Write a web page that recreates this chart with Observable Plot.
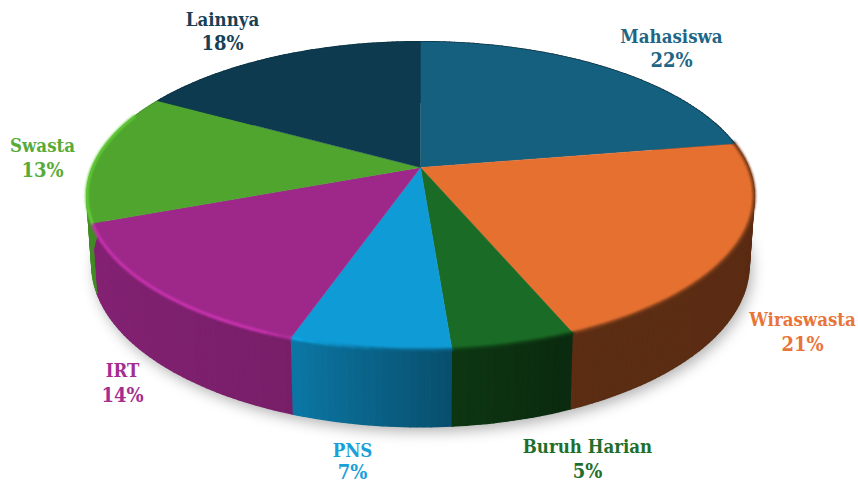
<!DOCTYPE html>
<html><head><meta charset="utf-8">
<script src="https://cdn.jsdelivr.net/npm/d3@7"></script>
<script src="https://cdn.jsdelivr.net/npm/@observablehq/plot@0.6"></script>
<style>
html,body{margin:0;padding:0;background:#fff}
svg{display:block}
.soft{filter:blur(7px)}
.rim{filter:blur(.8px)}
</style></head><body><div id="chart"></div>
<script>
// --- data ---
const categories = ["Mahasiswa","Wiraswasta","Buruh Harian","PNS","IRT","Swasta","Lainnya"];
const labelPercents = [22,21,5,7,14,13,18];
// slice sizes as drawn (percent of the full turn)
const drawnShares = [22.4,21.3,5.05,6.55,14.0,13.8,16.9];
const topColors = ["#155f7f","#e57030","#1a6b25","#0f9bd6","#9e288a","#4fa52d","#0d3a4e"];
const textColors = ["#1f6585","#e8743a","#1f6e2c","#1a9fd8","#a32e90","#57ab38","#173f55"];
// --- layout ---
const labelX = [671,802,587,352,122,42,222];
const nameY = [37,320,447,451,371,146,20];
const percentY = [60,344,471,472,395,170,43];
const view = {cx:420, cy:167, a:328, b:149, k:.184, h:67, bottomX:.985, bottomY:.97};

const rad = d => d*Math.PI/180;
function project(deg, level){
  const u = Math.sin(rad(deg)), v = -Math.cos(rad(deg));
  const s = 1/(1-view.k*v);
  return level === 0
    ? {x:view.cx+view.a*u*s, y:view.cy+view.b*v*s}
    : {x:view.cx+view.a*view.bottomX*u*s, y:view.cy+view.b*view.bottomY*v*s+view.h*s};
}
let cum = 0;
const slices = categories.map((name,i)=>{
  const start = cum*3.6; cum += drawnShares[i];
  return {name,i,start,end:cum*3.6,color:topColors[i]};
});
function stepsBetween(a,b,step){
  const out=[]; for(let t=a;t<b;t+=step) out.push(t); out.push(b); return out;
}
// top sectors
const topPts = slices.flatMap(s=>[
  {id:s.name,x:view.cx,y:view.cy,fill:s.color},
  ...stepsBetween(s.start,s.end,1).map(t=>({id:s.name,...project(t,0),fill:s.color}))
]);
// side wall strips
const shade = d3.scaleLinear().domain([60,159,175,198,250,300]).range([.39,.40,.5,.76,.84,.84]).clamp(true);
const scaled = (c,f)=>{const r=d3.rgb(c);return d3.rgb(r.r*f,r.g*f,r.b*f).formatHex();};
const sidePts = slices.flatMap(s=>{
  const ts=stepsBetween(s.start,s.end,1), out=[];
  for(let j=0;j<ts.length-1;j++){
    const id=s.name+j, mid=(ts[j]+ts[j+1])/2, fill=scaled(s.color,shade(mid));
    [[ts[j],0],[ts[j+1],0],[ts[j+1],1],[ts[j],1]].forEach(([t,l])=>out.push({id,...project(t,l),fill}));
  }
  return out;
});
// shadow beneath the pie
const shadowPts = stepsBetween(60,300,2).map(t=>{
  const p=project(t,1); return {x:p.x+3,y:p.y+5};
});
// bevelled rim on the top edge
const rimFactor = d3.scaleLinear().domain([80,150,185,205,300]).range([.55,.5,.65,1.3,1.22]).clamp(true);
const rimPts = slices.flatMap(s=>{
  const ts=stepsBetween(s.start,s.end,2), out=[];
  for(let j=0;j<ts.length-1;j++){
    const mid=(ts[j]+ts[j+1])/2;
    if(mid<80||mid>292) continue;
    const stroke=scaled(s.color,rimFactor(mid));
    [ts[j],ts[j+1]].forEach(t=>{
      const p=project(t,0);
      out.push({id:s.name+j,x:p.x,y:p.y,stroke});
    });
  }
  return out;
});
const labels = categories.map((name,i)=>({
  name,percent:labelPercents[i]+"%",x:labelX[i],nameY:nameY[i],percentY:percentY[i],fill:textColors[i]
}));
const font = "'DejaVu Serif Condensed','DejaVu Serif',serif";

const chart = Plot.plot({
  width:858,height:484,margin:0,
  style:{background:"#fff",overflow:"hidden"},
  x:{domain:[0,858],range:[0,858],axis:null},
  y:{domain:[0,484],range:[0,484],axis:null},
  marks:[
    Plot.line(shadowPts,{x:"x",y:"y",fill:"#000",fillOpacity:.3,stroke:"none",className:"soft"}),
    Plot.line(sidePts,{x:"x",y:"y",z:"id",fill:"fill",stroke:"fill",strokeWidth:1.5}),
    Plot.line(topPts,{x:"x",y:"y",z:"id",fill:"fill",stroke:"fill",strokeWidth:.4}),
    Plot.line(rimPts,{x:"x",y:"y",z:"id",stroke:"stroke",strokeWidth:3,className:"rim"}),
    Plot.text(labels,{x:"x",y:"nameY",text:"name",fill:"fill",fontSize:18.5,fontWeight:"bold",fontFamily:font,textAnchor:"middle"}),
    Plot.text(labels,{x:"x",y:"percentY",text:"percent",fill:"fill",fontSize:20,fontWeight:"bold",fontFamily:font,textAnchor:"middle"})
  ]
});
document.getElementById("chart").append(chart);
</script></body></html>
